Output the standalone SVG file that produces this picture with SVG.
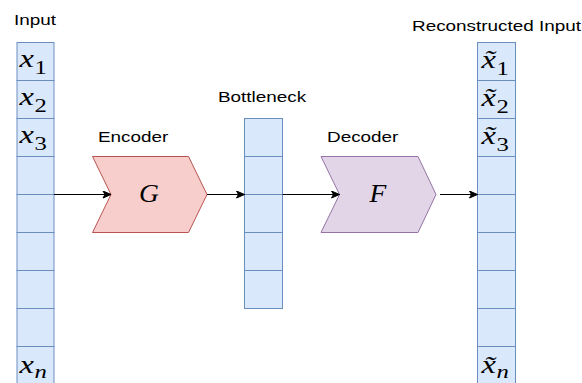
<svg xmlns="http://www.w3.org/2000/svg" width="582" height="383" viewBox="0 0 582 383">
<style>
.cell{fill:#dae8fc;stroke:#6c8ebf;stroke-width:1}
.lbl{font-family:"Liberation Sans",Arial,sans-serif;font-size:15.5px;fill:#000}
.m{font-family:"Liberation Serif","Times New Roman",serif;font-size:25px;font-style:italic;fill:#000}
.sub{font-size:19px;font-style:normal}
.subi{font-size:19px;font-style:italic}
.edge{stroke:#000;stroke-width:1;fill:none}
</style>
<defs>
<marker id="arr" markerUnits="userSpaceOnUse" markerWidth="10" markerHeight="10" refX="9" refY="4" orient="auto">
<path d="M1,0.5 L9,4 L1,7.5 L3,4 Z" fill="#000" stroke="#000" stroke-width="1"/>
</marker>
</defs>
<rect width="582" height="383" fill="#fff"/>

<g id="input">
<rect class="cell" x="17" y="42.5" width="37" height="38"/>
<rect class="cell" x="17" y="80.5" width="37" height="38"/>
<rect class="cell" x="17" y="118.5" width="37" height="38"/>
<rect class="cell" x="17" y="156.5" width="37" height="38"/>
<rect class="cell" x="17" y="194.5" width="37" height="38"/>
<rect class="cell" x="17" y="232.5" width="37" height="38"/>
<rect class="cell" x="17" y="270.5" width="37" height="38"/>
<rect class="cell" x="17" y="308.5" width="37" height="38"/>
<rect class="cell" x="17" y="346.5" width="37" height="38"/>
<text class="lbl" transform="translate(14,25.3) scale(1.22,1)">Input</text>
<text class="m" transform="translate(19.5,66.7) scale(1.3,1)">x<tspan class="sub" dx="0.5" dy="7">1</tspan></text>
<text class="m" transform="translate(19.5,104.7) scale(1.3,1)">x<tspan class="sub" dx="0.5" dy="7">2</tspan></text>
<text class="m" transform="translate(19.5,142.7) scale(1.3,1)">x<tspan class="sub" dx="0.5" dy="7">3</tspan></text>
<text class="m" transform="translate(19.5,373) scale(1.3,1)">x<tspan class="subi" dx="0.5" dy="5">n</tspan></text>
</g>

<g id="encoder">
<polygon points="92.5,156.5 188.5,156.5 207,194.5 188.5,232.5 92.5,232.5 111,194.5" fill="#f8cecc" stroke="#b85450" stroke-width="1"/>
<text class="lbl" transform="translate(98,142.3) scale(1.22,1)">Encoder</text>
<text class="m" text-anchor="middle" transform="translate(149,201.7) scale(1.1,1)">G</text>
</g>

<g id="bottleneck">
<rect class="cell" x="244.5" y="118.5" width="38" height="38"/>
<rect class="cell" x="244.5" y="156.5" width="38" height="38"/>
<rect class="cell" x="244.5" y="194.5" width="38" height="38"/>
<rect class="cell" x="244.5" y="232.5" width="38" height="38"/>
<rect class="cell" x="244.5" y="270.5" width="38" height="38"/>
<text class="lbl" transform="translate(218,102.3) scale(1.22,1)">Bottleneck</text>
</g>

<g id="decoder">
<polygon points="321,156.5 418,156.5 436,194.5 418,232.5 321,232.5 339.5,194.5" fill="#e1d5e7" stroke="#9673a6" stroke-width="1"/>
<text class="lbl" transform="translate(327,142.3) scale(1.22,1)">Decoder</text>
<text class="m" text-anchor="middle" transform="translate(378,201.7) scale(1.1,1)">F</text>
</g>

<g id="output">
<rect class="cell" x="477.5" y="42.5" width="38" height="38"/>
<rect class="cell" x="477.5" y="80.5" width="38" height="38"/>
<rect class="cell" x="477.5" y="118.5" width="38" height="38"/>
<rect class="cell" x="477.5" y="156.5" width="38" height="38"/>
<rect class="cell" x="477.5" y="194.5" width="38" height="38"/>
<rect class="cell" x="477.5" y="232.5" width="38" height="38"/>
<rect class="cell" x="477.5" y="270.5" width="38" height="38"/>
<rect class="cell" x="477.5" y="308.5" width="38" height="38"/>
<rect class="cell" x="477.5" y="346.5" width="38" height="38"/>
<text class="lbl" transform="translate(412,30.7) scale(1.22,1)">Reconstructed Input</text>
<text class="m" transform="translate(481.5,67.5) scale(1.3,1)">x̃<tspan class="sub" dx="0.5" dy="7">1</tspan></text>
<text class="m" transform="translate(481.5,105.5) scale(1.3,1)">x̃<tspan class="sub" dx="0.5" dy="7">2</tspan></text>
<text class="m" transform="translate(481.5,143.5) scale(1.3,1)">x̃<tspan class="sub" dx="0.5" dy="7">3</tspan></text>
<text class="m" transform="translate(481.5,373) scale(1.3,1)">x̃<tspan class="subi" dx="0.5" dy="5">n</tspan></text>
</g>

<g id="connectors">
<line class="edge" x1="54" y1="194.5" x2="111" y2="194.5" marker-end="url(#arr)"/>
<line class="edge" x1="207" y1="194.5" x2="244.5" y2="194.5" marker-end="url(#arr)"/>
<line class="edge" x1="282.5" y1="194.5" x2="339.5" y2="194.5" marker-end="url(#arr)"/>
<line class="edge" x1="440" y1="194.5" x2="477.5" y2="194.5" marker-end="url(#arr)"/>
</g>
</svg>
